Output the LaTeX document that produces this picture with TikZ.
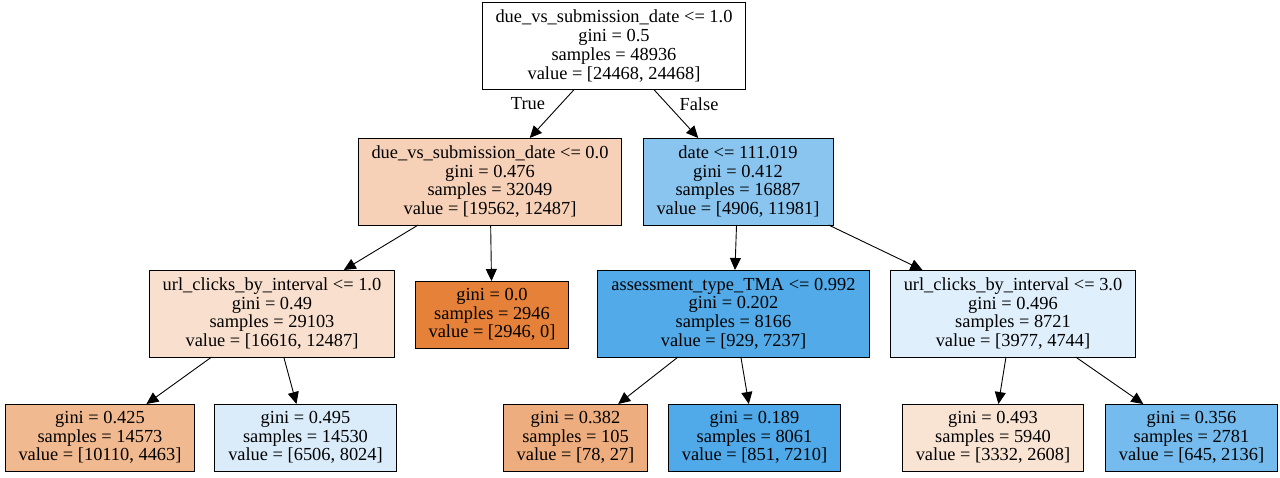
\documentclass[tikz,border=0pt]{standalone}
\usepackage{fontspec}
\setmainfont{Liberation Serif}
\usetikzlibrary{arrows.meta}
\definecolor{fillsplitA}{RGB}{246,209,183}
\definecolor{fillsplitB}{RGB}{138,197,240}
\definecolor{fillurlL}{RGB}{249,224,206}
\definecolor{fillpure}{RGB}{229,129,57}
\definecolor{filltma}{RGB}{82,170,232}
\definecolor{fillurlR}{RGB}{223,239,251}
\definecolor{fillleafA}{RGB}{241,185,144}
\definecolor{fillleafB}{RGB}{218,236,250}
\definecolor{fillleafC}{RGB}{238,173,126}
\definecolor{fillleafD}{RGB}{80,169,232}
\definecolor{fillleafE}{RGB}{249,228,212}
\definecolor{fillleafF}{RGB}{117,187,237}
\begin{document}
\begin{tikzpicture}[x=1pt,y=-1pt,inner sep=0pt,outer sep=0pt,
treenode/.style={draw,rectangle,line width=1pt,inner xsep=13.5pt,align=center,minimum height=87pt,
 font=\fontsize{18.4}{18.7}\selectfont},
leafnode/.style={treenode,minimum height=67pt},
edgeline/.style={-{Triangle[length=12pt,width=11pt]},line width=0.9pt}]
\useasboundingbox (0,0) rectangle (1280,477);
\draw (614,46) node[treenode,fill=white] (root) {due\_vs\_submission\_date <= 1.0\\gini = 0.5\\samples = 48936\\value = [24468, 24468]};
\draw (490,181.5) node[treenode,fill=fillsplitA] (due0) {due\_vs\_submission\_date <= 0.0\\gini = 0.476\\samples = 32049\\value = [19562, 12487]};
\draw (738,181.5) node[treenode,fill=fillsplitB] (date) {date <= 111.019\\gini = 0.412\\samples = 16887\\value = [4906, 11981]};
\draw (272,313.5) node[treenode,fill=fillurlL] (url1) {url\_clicks\_by\_interval <= 1.0\\gini = 0.49\\samples = 29103\\value = [16616, 12487]};
\draw (492,314.5) node[leafnode,fill=fillpure] (pure) {gini = 0.0\\samples = 2946\\value = [2946, 0]};
\draw (733.5,313.5) node[treenode,fill=filltma] (tma) {assessment\_type\_TMA <= 0.992\\gini = 0.202\\samples = 8166\\value = [929, 7237]};
\draw (1013,313.5) node[treenode,fill=fillurlR] (url3) {url\_clicks\_by\_interval <= 3.0\\gini = 0.496\\samples = 8721\\value = [3977, 4744]};
\draw (100,437.5) node[leafnode,fill=fillleafA] (leafa) {gini = 0.425\\samples = 14573\\value = [10110, 4463]};
\draw (305.5,437.5) node[leafnode,fill=fillleafB] (leafb) {gini = 0.495\\samples = 14530\\value = [6506, 8024]};
\draw (575.5,437.5) node[leafnode,fill=fillleafC] (leafc) {gini = 0.382\\samples = 105\\value = [78, 27]};
\draw (754.5,437.5) node[leafnode,fill=fillleafD] (leafd) {gini = 0.189\\samples = 8061\\value = [851, 7210]};
\draw (993,437.5) node[leafnode,fill=fillleafE] (leafe) {gini = 0.493\\samples = 5940\\value = [3332, 2608]};
\draw (1191.5,437.5) node[leafnode,fill=fillleafF] (leaff) {gini = 0.356\\samples = 2781\\value = [645, 2136]};
\draw[edgeline] (root) -- (due0);
\draw[edgeline] (root) -- (date);
\node[font=\fontsize{18.4}{18.7}\selectfont] (truelbl) at (528,104) {True};
\node[font=\fontsize{18.4}{18.7}\selectfont] (falselbl) at (699,104) {False};
\draw[edgeline] (due0) -- (url1);
\draw[edgeline] (due0) -- (pure);
\draw[edgeline] (date) -- (tma);
\draw[edgeline] (date) -- (url3);
\draw[edgeline] (url1) -- (leafa);
\draw[edgeline] (url1) -- (leafb);
\draw[edgeline] (tma) -- (leafc);
\draw[edgeline] (tma) -- (leafd);
\draw[edgeline] (url3) -- (leafe);
\draw[edgeline] (url3) -- (leaff);
\end{tikzpicture}
\end{document}
